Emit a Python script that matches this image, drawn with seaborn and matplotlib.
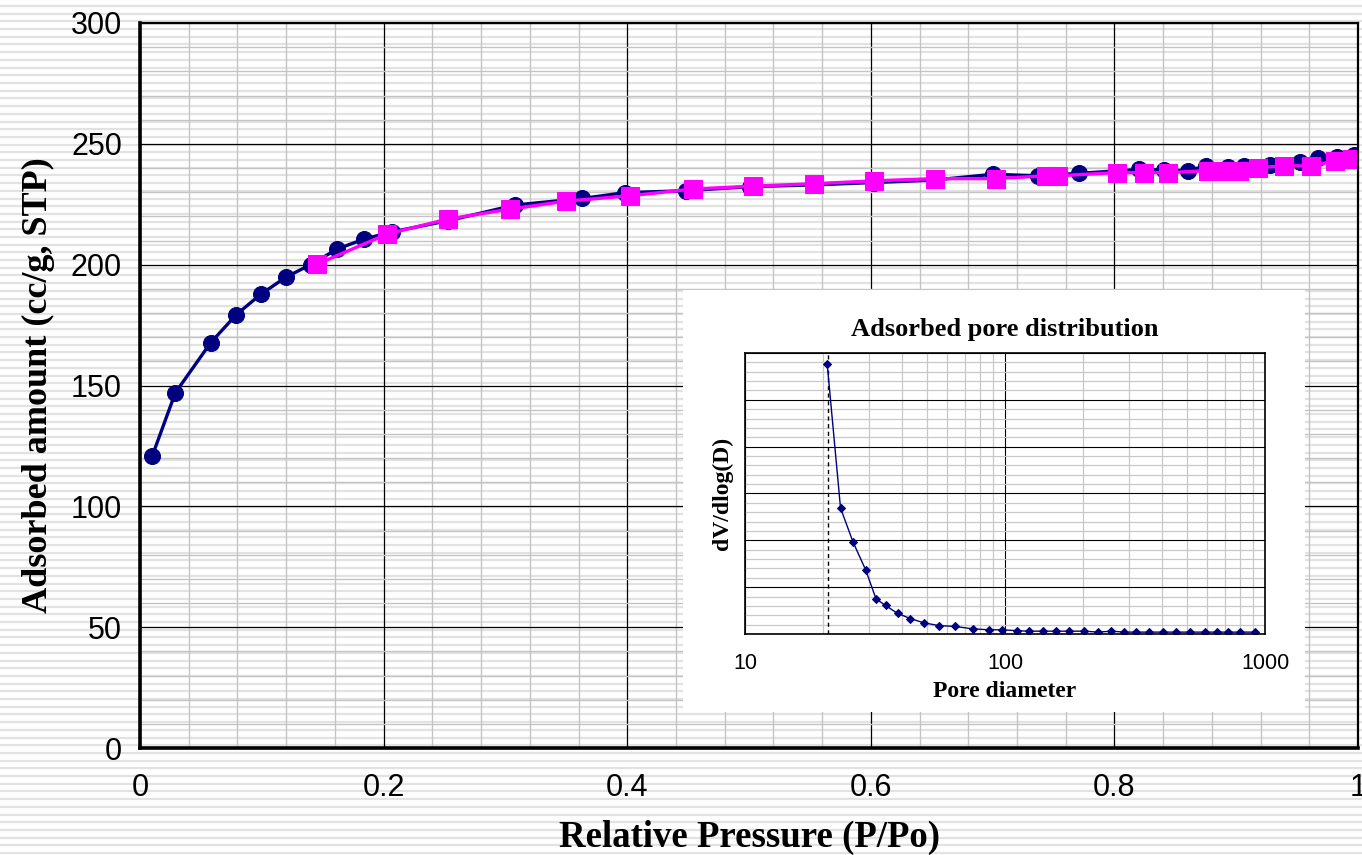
import numpy as np
import pandas as pd
import matplotlib
matplotlib.use("Agg")
import matplotlib.pyplot as plt
from matplotlib.patches import Rectangle
from matplotlib.ticker import MultipleLocator, LogLocator, NullFormatter
import seaborn as sns

# adsorption branch (navy circles)
p_ads = [0.010, 0.029, 0.058, 0.079, 0.099, 0.120, 0.140, 0.162, 0.184, 0.207,
         0.253, 0.308, 0.363, 0.398, 0.448, 0.501, 0.553, 0.603, 0.652, 0.700,
         0.737, 0.771, 0.820, 0.841, 0.860, 0.875, 0.893, 0.906, 0.928, 0.952,
         0.967, 0.983, 0.997]
v_ads = [120.8, 147.0, 167.7, 179.3, 187.7, 194.9, 200.0, 206.5, 210.6, 213.6,
         218.2, 224.7, 227.4, 229.8, 230.6, 232.3, 233.0, 234.0, 235.0, 237.4,
         236.8, 237.8, 239.4, 239.2, 238.9, 240.8, 240.5, 240.8, 241.2, 242.6,
         244.0, 244.6, 245.2]

# desorption branch (magenta squares)
p_des = [0.995, 0.981, 0.961, 0.939, 0.918, 0.902, 0.891, 0.877, 0.844, 0.824,
         0.802, 0.754, 0.744, 0.703, 0.653, 0.603, 0.553, 0.503, 0.454, 0.402,
         0.350, 0.304, 0.253, 0.203, 0.145]
v_des = [243.8, 242.9, 240.9, 240.9, 240.1, 238.9, 238.9, 238.9, 238.1, 238.1,
         238.1, 236.8, 236.8, 235.6, 235.6, 234.7, 233.5, 232.5, 231.3, 228.5,
         226.3, 223.0, 218.9, 212.7, 200.1]

# inset: pore size distribution (y in unlabeled grid units)
pore_d = [20.7, 23.3, 26.0, 29.1, 31.9, 34.7, 38.6, 43.2, 48.6, 55.6, 64.4,
          75.1, 86.4, 97.5, 110.9, 123.5, 139.4, 157, 176.6, 201.5, 228.4, 256,
          287, 318, 358, 404, 454, 516, 587, 654, 722, 804, 914]
pore_dv = [5.77, 2.69, 1.97, 1.37, 0.75, 0.61, 0.44, 0.33, 0.24, 0.18, 0.16,
           0.11, 0.09, 0.09, 0.07, 0.06, 0.06, 0.06, 0.06, 0.06, 0.04, 0.06,
           0.04, 0.04, 0.04, 0.04, 0.04, 0.04, 0.04, 0.04, 0.04, 0.04, 0.04]
peak_d = 20.9

ads = pd.DataFrame({"p": p_ads, "v": v_ads})
des = pd.DataFrame({"p": p_des, "v": v_des})
psd = pd.DataFrame({"d": pore_d, "dv": pore_dv})

sns.set_theme(style="white")
plt.rcParams["font.family"] = ["Liberation Sans", "DejaVu Sans"]

NAVY = "#000080"
MAGENTA = "#FF00FF"
SERIF = ["Liberation Serif", "DejaVu Serif"]

fig = plt.figure(figsize=(13.62, 8.55), dpi=100)
fig.patch.set_facecolor("white")

# striped page background
bg = fig.add_axes([0, 0, 1, 1], zorder=-10)
bg.set_xlim(0, 1)
bg.set_ylim(0, 855)
bg.hlines(np.arange(2.0, 855, 7.7), 0, 1, color="#e2e2e2", lw=1.6)
bg.axis("off")

# main isotherm
ax = fig.add_axes([0.1028, 0.1251, 0.8943, 0.8480], zorder=1)
ax.set_facecolor("none")
sns.lineplot(data=ads, x="p", y="v", ax=ax, sort=False, estimator=None,
             color=NAVY, lw=2.4, marker="o", markersize=11.5,
             markeredgecolor=NAVY, markerfacecolor=NAVY)
sns.lineplot(data=des, x="p", y="v", ax=ax, sort=False, estimator=None,
             color=MAGENTA, lw=2.4, marker="s", markersize=13.5,
             markeredgecolor=MAGENTA, markerfacecolor=MAGENTA)
ax.set_xlim(0, 1)
ax.set_ylim(0, 300)
ax.xaxis.set_major_locator(MultipleLocator(0.2))
ax.xaxis.set_minor_locator(MultipleLocator(0.04))
ax.yaxis.set_major_locator(MultipleLocator(50))
ax.yaxis.set_minor_locator(MultipleLocator(10))
ax.set_xticks([0, 0.2, 0.4, 0.6, 0.8, 1.0])
ax.set_xticklabels(["0", "0.2", "0.4", "0.6", "0.8", "1"])
ax.grid(which="major", color="black", lw=0.9)
ax.grid(which="minor", color="#c4c4c4", lw=1.0)
ax.set_axisbelow(True)
ax.tick_params(axis="both", which="major", direction="in", length=4,
               width=1, color="black", labelsize=22, labelcolor="black")
ax.tick_params(axis="x", pad=18)
ax.tick_params(axis="y", pad=13)
ax.tick_params(which="minor", length=0)
for side in ["left", "bottom"]:
    ax.spines[side].set_linewidth(2.6)
    ax.spines[side].set_color("black")
for side in ["top", "right"]:
    ax.spines[side].set_linewidth(1.6)
    ax.spines[side].set_color("black")
ax.set_xlabel("Relative Pressure (P/Po)", family=SERIF, fontweight="bold",
              fontsize=26.5, color="black", labelpad=12)
ax.set_ylabel("Adsorbed amount (cc/g, STP)", family=SERIF, fontweight="bold",
              fontsize=26, color="black", labelpad=11)

# white inset panel
fig.patches.append(Rectangle((0.5015, 0.1673), 0.4567, 0.4936,
                             transform=fig.transFigure, facecolor="white",
                             edgecolor="none", zorder=2))

axi = fig.add_axes([0.5470, 0.2585, 0.3818, 0.3287], zorder=3)
axi.set_facecolor("white")
axi.set_xscale("log")
axi.set_xlim(10, 1000)
axi.set_ylim(0, 6)
axi.axvline(peak_d, color="black", lw=1.0, ls=(0, (3, 2.5)))
sns.lineplot(data=psd, x="d", y="dv", ax=axi, sort=False, estimator=None,
             color=NAVY, lw=1.0, marker="D", markersize=4.5,
             markeredgecolor=NAVY, markerfacecolor=NAVY)
axi.xaxis.set_major_locator(LogLocator(base=10))
axi.xaxis.set_minor_locator(LogLocator(base=10, subs=np.arange(2, 10)))
axi.xaxis.set_minor_formatter(NullFormatter())
axi.set_xticks([10, 100, 1000])
axi.set_xticklabels(["10", "100", "1000"])
axi.yaxis.set_major_locator(MultipleLocator(1))
axi.yaxis.set_minor_locator(MultipleLocator(0.2))
axi.set_yticklabels([])
axi.grid(which="major", color="black", lw=0.8)
axi.grid(which="minor", color="#c8c8c8", lw=0.9)
axi.set_axisbelow(True)
axi.tick_params(axis="x", which="major", direction="out", length=7, width=1,
                color="black", labelsize=15.5, labelcolor="black", pad=7)
axi.tick_params(axis="x", which="minor", direction="out", length=3,
                width=0.8, color="black")
axi.tick_params(axis="y", which="both", length=0)
for side in axi.spines.values():
    side.set_color("black")
    side.set_linewidth(1.2)
axi.set_xlabel("Pore diameter", family=SERIF, fontweight="bold",
               fontsize=17, color="black", labelpad=5)
axi.set_ylabel("dV/dlog(D)", family=SERIF, fontweight="bold",
               fontsize=17, color="black", labelpad=5)
axi.set_title("Adsorbed pore distribution", family=SERIF, fontweight="bold",
              fontsize=19, color="black", pad=12)

fig.savefig("out.png", dpi=100)
